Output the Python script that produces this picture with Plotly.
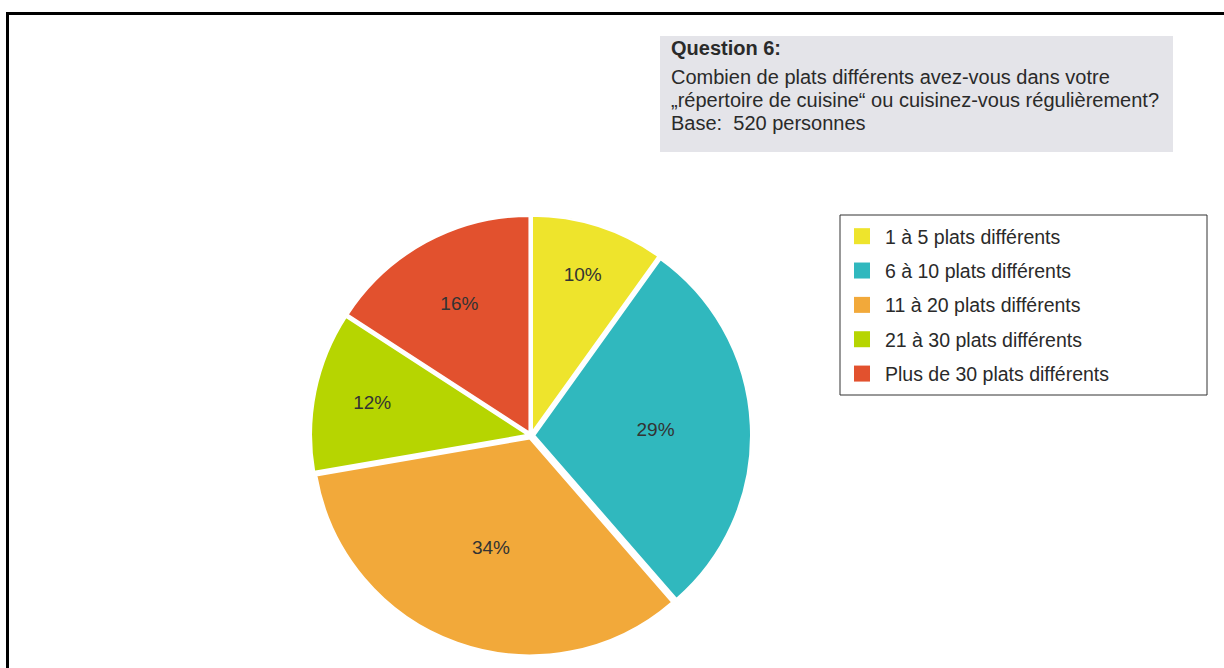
import plotly.graph_objects as go

categories = ["1 à 5 plats différents", "6 à 10 plats différents", "11 à 20 plats différents",
              "21 à 30 plats différents", "Plus de 30 plats différents"]
values = [10, 29, 34, 12, 16]
colors = ["#EEE42C", "#30B8BE", "#F2A93A", "#B6D501", "#E2512E"]
question_lines = ["<b>Question 6:</b>",
                  "Combien de plats différents avez-vous dans votre",
                  "„répertoire de cuisine“ ou cuisinez-vous régulièrement?",
                  "Base:  520 personnes"]

W, H = 1224, 668
FONT = "Liberation Sans, Arial, sans-serif"

def px(x):
    return x / W

def py(y):
    return (H - y) / H

fig = go.Figure()
fig.add_trace(go.Pie(
    labels=categories, values=values, sort=False, direction="clockwise", rotation=0,
    marker=dict(colors=colors, line=dict(color="white", width=2)),
    pull=[0.015] * len(values),
    texttemplate="%{value}%", textposition="inside", insidetextorientation="horizontal",
    textfont=dict(family=FONT, size=19, color="#333333"),
    showlegend=False, hoverinfo="label+value",
    domain=dict(x=[px(311), px(751)], y=[py(659), py(212)]),
))

for i, (c, col) in enumerate(zip(categories, colors)):
    fig.add_trace(go.Scatter(
        x=[None], y=[None], mode="markers", name=c, legendgroup=str(i),
        marker=dict(symbol="square", size=18, color=col),
    ))

shapes = [
    dict(type="rect", xref="paper", yref="paper", x0=px(660), x1=px(1173), y0=py(152), y1=py(36),
         fillcolor="#E4E4E9", line=dict(width=0), layer="below"),
    dict(type="rect", xref="paper", yref="paper", x0=px(840), x1=px(1207), y0=py(395), y1=py(215),
         fillcolor="rgba(0,0,0,0)", line=dict(color="#333333", width=1)),
    dict(type="rect", xref="paper", yref="paper", x0=px(7.5), x1=px(1250), y0=py(700), y1=py(13.5),
         fillcolor="rgba(0,0,0,0)", line=dict(color="black", width=3)),
]

annotations = []
line_y = [48, 77, 100, 123]
for t, yy in zip(question_lines, line_y):
    annotations.append(dict(text=t, xref="paper", yref="paper", x=px(669), y=py(yy),
                            xanchor="left", yanchor="middle", showarrow=False,
                            font=dict(family=FONT, size=20, color="#2a2a2a")))

fig.update_layout(
    width=W, height=H, margin=dict(l=0, r=0, t=0, b=0),
    paper_bgcolor="white", plot_bgcolor="white",
    xaxis=dict(visible=False), yaxis=dict(visible=False),
    shapes=shapes, annotations=annotations,
    legend=dict(x=px(839), y=py(217), xanchor="left", yanchor="top",
                bgcolor="rgba(0,0,0,0)", borderwidth=0, tracegroupgap=6, itemwidth=36,
                font=dict(family=FONT, size=19.5, color="#2a2a2a"), itemsizing="trace"),
)

fig.write_html("out.html", config={"displayModeBar": False},
               post_script="document.body.style.margin='0px';")
